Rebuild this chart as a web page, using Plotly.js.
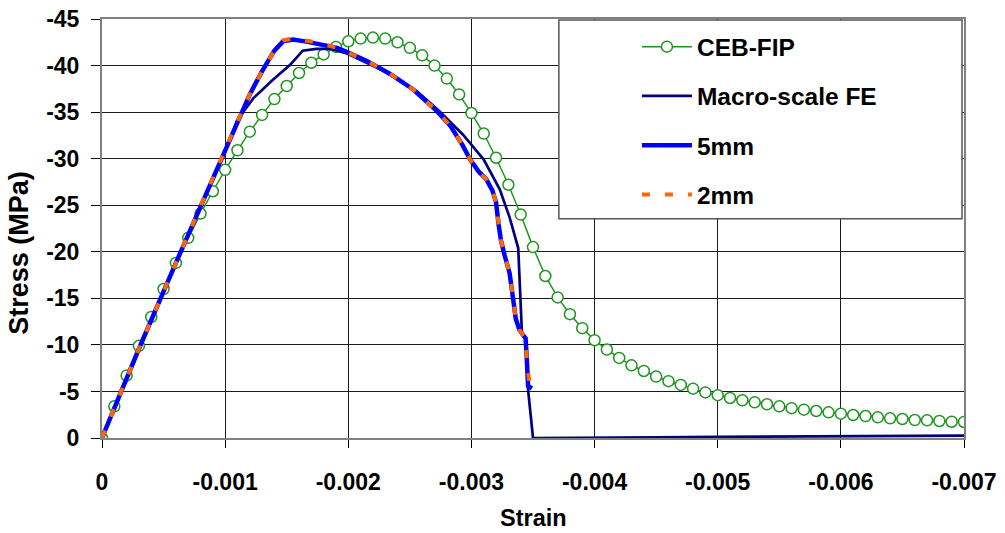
<!DOCTYPE html>
<html>
<head>
<meta charset="utf-8">
<script src="https://cdn.plot.ly/plotly-3.0.1.min.js"></script>
<style>
  html, body { margin: 0; padding: 0; background: #fff; }
  #chart { width: 1005px; height: 533px; }
</style>
</head>
<body>
<div id="chart"></div>
<script>
// CEB-FIP model curve, sampled every 0.0001 strain
const cebStrain = [
  0, -0.0001, -0.0002, -0.0003, -0.0004, -0.0005, -0.0006, -0.0007, -0.0008, -0.0009,
  -0.0010, -0.0011, -0.0012, -0.0013, -0.0014, -0.0015, -0.0016, -0.0017, -0.0018, -0.0019,
  -0.0020, -0.0021, -0.0022, -0.0023, -0.0024, -0.0025, -0.0026, -0.0027, -0.0028, -0.0029,
  -0.0030, -0.0031, -0.0032, -0.0033, -0.0034, -0.0035, -0.0036, -0.0037, -0.0038, -0.0039,
  -0.0040, -0.0041, -0.0042, -0.0043, -0.0044, -0.0045, -0.0046, -0.0047, -0.0048, -0.0049,
  -0.0050, -0.0051, -0.0052, -0.0053, -0.0054, -0.0055, -0.0056, -0.0057, -0.0058, -0.0059,
  -0.0060, -0.0061, -0.0062, -0.0063, -0.0064, -0.0065, -0.0066, -0.0067, -0.0068, -0.0069,
  -0.0070
];
const cebStress = [
  0, -3.4, -6.7, -9.9, -13.0, -16.0, -18.8, -21.5, -24.1, -26.5,
  -28.8, -30.9, -32.9, -34.7, -36.4, -37.8, -39.2, -40.3, -41.2, -42.0,
  -42.6, -42.9, -43.0, -42.9, -42.5, -41.9, -41.1, -40.0, -38.6, -36.9,
  -34.9, -32.7, -30.1, -27.2, -24.0, -20.5, -17.4, -15.1, -13.3, -11.8,
  -10.5, -9.5, -8.6, -7.8, -7.2, -6.6, -6.1, -5.7, -5.3, -4.9,
  -4.6, -4.3, -4.05, -3.83, -3.62, -3.4, -3.2, -3.04, -2.9, -2.76,
  -2.61, -2.47, -2.36, -2.22, -2.11, -2.04, -1.93, -1.9, -1.83, -1.75,
  -1.72
];

// Macro-scale finite element response
const macroStrain = [
  0, -0.0006, -0.0010, -0.0011, -0.00123, -0.00139, -0.00153, -0.00163, -0.00174, -0.00185,
  -0.00199, -0.00229, -0.00256, -0.00274, -0.00293, -0.0031, -0.00323, -0.00331, -0.00338, -0.0034,
  -0.00341, -0.00344, -0.00346, -0.0035, -0.0042, -0.0045, -0.0050, -0.0055, -0.0060, -0.0065,
  -0.0070
];
const macroStress = [
  0, -18.8, -30.8, -34.2, -36.5, -38.5, -40.1, -41.6, -41.8, -41.8,
  -41.3, -39.4, -37.2, -35.1, -32.6, -29.9, -26.7, -23.7, -20.4, -14.9,
  -11.3, -10.6, -5.2, 0.0, 0.0, -0.08, -0.12, -0.15, -0.2, -0.22,
  -0.26
];

// Meso-scale model, 5 mm mesh
const mesh5Strain = [
  0, -0.0003, -0.0006, -0.0009, -0.0010, -0.0011, -0.0012, -0.0013, -0.0014, -0.00147,
  -0.00155, -0.00165, -0.00174, -0.00191, -0.0020, -0.00215, -0.00234, -0.00253, -0.00272, -0.00283,
  -0.00293, -0.00299, -0.00306, -0.00312, -0.00317, -0.0032, -0.00322, -0.00324, -0.00327, -0.00331,
  -0.00334, -0.00336, -0.00339, -0.00344, -0.00345, -0.00346, -0.00349
];
const mesh5Stress = [
  0, -9.6, -18.8, -28.0, -30.8, -34.0, -36.9, -39.4, -41.6, -42.6,
  -42.8, -42.6, -42.4, -41.9, -41.4, -40.5, -39.1, -37.4, -35.1, -33.5,
  -31.4, -29.9, -28.6, -27.8, -26.6, -25.3, -23.0, -21.2, -19.6, -17.7,
  -14.8, -12.8, -11.6, -10.7, -8.4, -5.6, -5.3
];

// Meso-scale model, 2 mm mesh
const mesh2Strain = [
  0, -0.0003, -0.0006, -0.0009, -0.0010, -0.0011, -0.0012, -0.0013, -0.0014, -0.00147,
  -0.00155, -0.00165, -0.00174, -0.00191, -0.0020, -0.00215, -0.00234, -0.00253, -0.00272, -0.00283,
  -0.00293, -0.00299, -0.00306, -0.00312, -0.00317, -0.0032, -0.00322, -0.00324, -0.00327, -0.00331,
  -0.00334, -0.00336, -0.00339, -0.00344, -0.00345, -0.00347
];
const mesh2Stress = [
  0, -9.6, -18.8, -28.0, -30.8, -34.0, -36.9, -39.4, -41.6, -42.7,
  -42.9, -42.7, -42.5, -41.9, -41.4, -40.5, -39.1, -37.4, -35.1, -33.5,
  -31.4, -29.9, -28.6, -27.8, -26.6, -25.3, -23.0, -21.2, -19.6, -17.7,
  -14.8, -12.8, -11.6, -10.7, -8.4, -6.0
];

// Axis ticks (plain hyphen minus signs)
const xTickVals = [0, -0.001, -0.002, -0.003, -0.004, -0.005, -0.006, -0.007];
const xTickText = ['0', '-0.001', '-0.002', '-0.003', '-0.004', '-0.005', '-0.006', '-0.007'];
const yTickVals = [0, -5, -10, -15, -20, -25, -30, -35, -40, -45];
const yTickText = ['0', '-5', '-10', '-15', '-20', '-25', '-30', '-35', '-40', '-45'];

const FONT = 'Arial, "Liberation Sans", "DejaVu Sans", sans-serif';

const traces = [
  {
    name: 'CEB-FIP', x: cebStrain, y: cebStress, type: 'scatter', mode: 'lines+markers',
    legendgroup: 'a',
    line: { color: '#1f951f', width: 1.5 },
    marker: { symbol: 'circle', size: 11, color: '#ffffff', line: { color: '#1f951f', width: 1.5 } }
  },
  {
    name: 'Macro-scale FE', x: macroStrain, y: macroStress, type: 'scatter', mode: 'lines',
    legendgroup: 'b',
    line: { color: '#000080', width: 2.7 }
  },
  {
    name: '5mm', x: mesh5Strain, y: mesh5Stress, type: 'scatter', mode: 'lines',
    legendgroup: 'c',
    line: { color: '#0000ff', width: 4.5 }
  },
  {
    name: '2mm', x: mesh2Strain, y: mesh2Stress, type: 'scatter', mode: 'lines',
    legendgroup: 'd',
    line: { color: '#ff6600', width: 4, dash: '8px,15px' }
  }
];

const layout = {
  width: 1005, height: 533,
  margin: { l: 102, r: 41, t: 19, b: 94.5 },
  paper_bgcolor: '#ffffff', plot_bgcolor: '#ffffff',
  font: { family: FONT, color: '#000', size: 23, weight: 'bold' },
  showlegend: true,
  xaxis: {
    range: [0, -0.007], tickmode: 'array', tickvals: xTickVals, ticktext: xTickText,
    ticks: 'outside', ticklen: 8, tickcolor: '#000', tickwidth: 1,
    tickfont: { family: FONT, size: 23, weight: 'bold', color: '#000' },
    ticklabelstandoff: 14,
    showgrid: true, gridcolor: '#1a1a1a', gridwidth: 1,
    showline: true, linecolor: '#808080', linewidth: 2, mirror: true,
    zeroline: false, fixedrange: true
  },
  yaxis: {
    range: [0, -45], tickmode: 'array', tickvals: yTickVals, ticktext: yTickText,
    ticks: 'outside', ticklen: 9, tickcolor: '#000', tickwidth: 1,
    tickfont: { family: FONT, size: 23, weight: 'bold', color: '#000' },
    ticklabelstandoff: 7,
    showgrid: true, gridcolor: '#1a1a1a', gridwidth: 1,
    showline: true, linecolor: '#808080', linewidth: 2, mirror: true,
    zeroline: false, fixedrange: true
  },
  legend: {
    x: 0.6206, xanchor: 'left', y: 0.9875, yanchor: 'top',
    bgcolor: 'rgba(0,0,0,0)', borderwidth: 0,
    itemwidth: 50, traceorder: 'grouped', tracegroupgap: 14.4,
    font: { family: FONT, size: 24.5, weight: 'bold', color: '#000' }
  },
  shapes: [
    {
      type: 'rect', xref: 'paper', yref: 'paper', layer: 'above',
      x0: 0.530, x1: 0.9977, y0: 0.5232, y1: 0.9976,
      fillcolor: '#ffffff', line: { color: '#555555', width: 1.5 }
    }
  ],
  annotations: [
    {
      text: 'Strain', xref: 'paper', yref: 'paper', x: 0.5, y: -0.192,
      xanchor: 'center', yanchor: 'middle', showarrow: false,
      font: { family: FONT, size: 23.5, weight: 'bold', color: '#000' }
    },
    {
      text: 'Stress (MPa)', xref: 'paper', yref: 'paper', x: -0.0963, y: 0.442,
      xanchor: 'center', yanchor: 'middle', showarrow: false, textangle: -90,
      font: { family: FONT, size: 27, weight: 'bold', color: '#000' }
    }
  ]
};

Plotly.newPlot('chart', traces, layout, { displayModeBar: false, staticPlot: true });
</script>
</body>
</html>
